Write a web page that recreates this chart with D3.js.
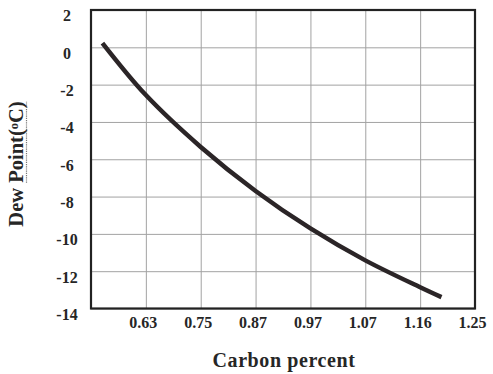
<!DOCTYPE html>
<html>
<head>
<meta charset="utf-8">
<script src="https://cdn.jsdelivr.net/npm/d3@7"></script>
<style>
  body { margin: 0; background: #fff; }
  svg text { font-family: "Liberation Serif", "Times New Roman", serif; font-weight: bold; fill: #262626; }
</style>
</head>
<body>
<svg id="chart" width="493" height="374"></svg>
<script>
// axis breakpoints (x axis is not linear in value, ticks are evenly spaced)
const carbonTicks = [0.51, 0.63, 0.75, 0.87, 0.97, 1.07, 1.16, 1.25];
const xLabels = [0.63, 0.75, 0.87, 0.97, 1.07, 1.16, 1.25];
const yTicks = [2, 0, -2, -4, -6, -8, -10, -12, -14];

// curve
const carbon = [0.535, 0.63, 0.75, 0.87, 0.97, 1.07, 1.16, 1.195];
const dewPoint = [0.23, -2.56, -5.34, -7.7, -9.71, -11.42, -12.86, -13.39];

const margin = { top: 10, right: 18, bottom: 65.5, left: 91 };
const width = 493, height = 374;
const plotLeft = margin.left, plotRight = width - margin.right;
const plotTop = margin.top, plotBottom = height - margin.bottom;

const svg = d3.select('#chart');

const step = (plotRight - plotLeft) / (carbonTicks.length - 1);
const xScale = d3.scaleLinear()
  .domain(carbonTicks)
  .range(carbonTicks.map((d, i) => plotLeft + i * step));

const yScale = d3.scaleLinear()
  .domain([-14, 2])
  .range([plotBottom, plotTop]);

// grid lines + labels via axes
const xAxis = d3.axisBottom(xScale)
  .tickValues(xLabels)
  .tickSize(-(plotBottom - plotTop))
  .tickFormat(d3.format('.2f'));

const gx = svg.append('g')
  .attr('transform', `translate(0, ${plotBottom})`)
  .call(xAxis);
gx.select('.domain').remove();
gx.selectAll('.tick line').attr('stroke', '#a2a2a2').attr('stroke-width', 1);
gx.selectAll('.tick text')
  .attr('y', 19.5)
  .attr('dx', -3)
  .attr('dy', 0)
  .style('font-size', '16px');

const yAxis = d3.axisLeft(yScale)
  .tickValues(yTicks)
  .tickSize(-(plotRight - plotLeft))
  .tickFormat(d => d);

const gy = svg.append('g')
  .attr('transform', `translate(${plotLeft}, 0)`)
  .call(yAxis);
gy.select('.domain').remove();
gy.selectAll('.tick line').attr('stroke', '#a2a2a2').attr('stroke-width', 1);
gy.selectAll('.tick text')
  .attr('x', -24)
  .attr('dy', '0.68em')
  .style('text-anchor', 'middle')
  .style('font-size', '16px');

// frame
svg.append('rect')
  .attr('x', plotLeft)
  .attr('y', plotTop)
  .attr('width', plotRight - plotLeft)
  .attr('height', plotBottom - plotTop)
  .attr('fill', 'none')
  .attr('stroke', '#222')
  .attr('stroke-width', 2.2);

// the curve
const points = carbon.map((c, i) => ({ c: c, t: dewPoint[i] }));
const line = d3.line()
  .x(d => xScale(d.c))
  .y(d => yScale(d.t))
  .curve(d3.curveCatmullRom.alpha(0.5));

svg.append('path')
  .datum(points)
  .attr('fill', 'none')
  .attr('stroke', '#2b2527')
  .attr('stroke-width', 4.5)
  .attr('stroke-linecap', 'butt')
  .attr('d', line);

// axis titles
svg.append('text')
  .attr('x', 284)
  .attr('y', 367)
  .style('text-anchor', 'middle')
  .style('font-size', '20px')
  .style('letter-spacing', '0.6px')
  .text('Carbon percent');

const yTitleG = svg.append('g')
  .attr('transform', 'translate(23, 164) rotate(-90)');
const yTitle = yTitleG.append('text')
  .style('text-anchor', 'middle')
  .style('font-size', '20.5px');
yTitle.append('tspan').text('Dew ');
yTitle.append('tspan').text('Point(');
yTitle.append('tspan').text('o')
  .attr('baseline-shift', '40%')
  .style('font-size', '12.5px');
yTitle.append('tspan').text('C)');

// dotted underline under "Point(oC)"
const tb = yTitle.node().getBBox();
const dewW = yTitle.node().getSubStringLength(0, 4);
yTitleG.append('line')
  .attr('x1', tb.x + dewW)
  .attr('x2', tb.x + tb.width)
  .attr('y1', 3.5)
  .attr('y2', 3.5)
  .attr('stroke', '#777')
  .attr('stroke-width', 1.2)
  .attr('stroke-dasharray', '1.2,1');
</script>
</body>
</html>
